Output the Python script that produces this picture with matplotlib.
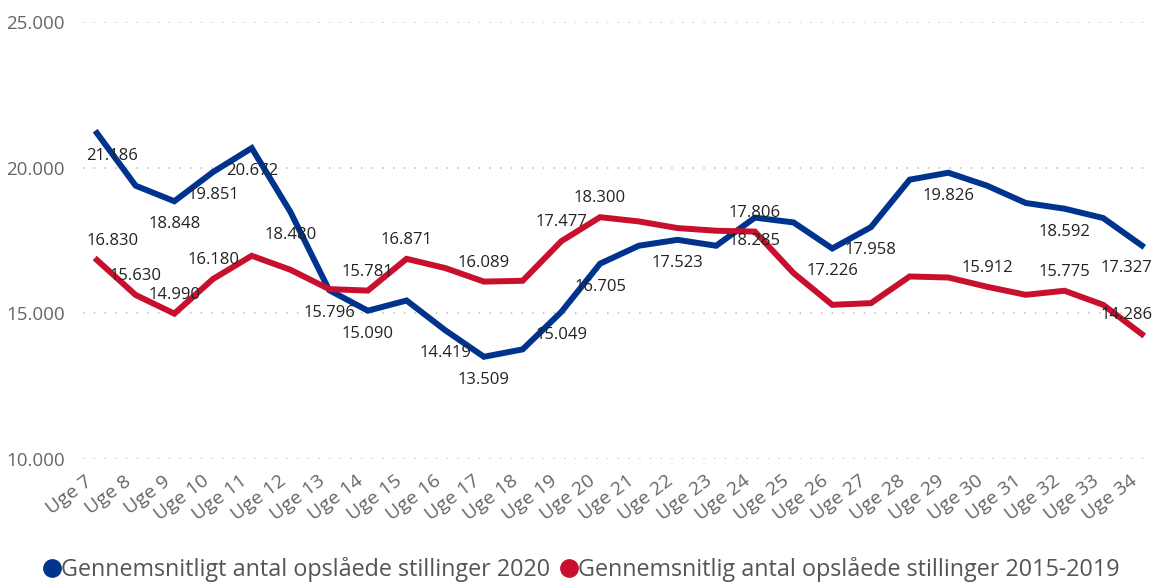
import matplotlib
matplotlib.use("Agg")
import matplotlib.pyplot as plt
from matplotlib.lines import Line2D

plt.rcParams['font.family'] = ['Open Sans', 'DejaVu Sans']

weeks = [f"Uge {w}" for w in range(7, 35)]
series_2020 = [21186, 19381, 18848, 19851, 20672, 18480, 15796, 15090, 15440, 14419,
               13509, 13763, 15049, 16705, 17320, 17523, 17320, 18285, 18120, 17226,
               17958, 19588, 19826, 19381, 18787, 18592, 18271, 17327]
series_1519 = [16830, 15630, 14990, 16180, 16976, 16495, 15832, 15781, 16871, 16553,
               16089, 16117, 17477, 18300, 18155, 17927, 17835, 17806, 16381, 15292,
               15350, 16265, 16230, 15912, 15636, 15775, 15292, 14286]
labels_2020 = [0, 2, 3, 4, 5, 6, 7, 9, 10, 12, 13, 15, 17, 19, 20, 22, 25, 27]
labels_1519 = [0, 1, 2, 3, 7, 8, 10, 12, 13, 17, 23, 25, 27]
legend_names = ["Gennemsnitligt antal opslåede stillinger 2020",
                "Gennemsnitlig antal opslåede stillinger 2015-2019"]
yticks = [10000, 15000, 20000, 25000]

BLUE = "#00338D"
RED = "#C8102E"

W, H = 1153, 583
fig = plt.figure(figsize=(W / 100, H / 100), dpi=100)
ax = fig.add_axes([83 / W, 1 - 459 / H, (1150 - 83) / W, (459 - 22) / H])

x = list(range(len(weeks)))
ax.plot(x, series_2020, color=BLUE, lw=4.3, solid_joinstyle='miter', zorder=3)
ax.plot(x, series_1519, color=RED, lw=4.3, solid_joinstyle='miter', zorder=3)

def fmt(v):
    return f"{v:,}".replace(",", ".")

last = len(weeks) - 1

def edge_dx(i):
    if i == 0:
        return 11
    if i == last:
        return -11
    return 0

for i in labels_2020:
    ax.annotate(fmt(series_2020[i]), (x[i], series_2020[i]), xytext=(edge_dx(i), -16.5),
                textcoords='offset points', ha='center', va='center',
                fontsize=12, color='#222222', zorder=4)
for i in labels_1519:
    ax.annotate(fmt(series_1519[i]), (x[i], series_1519[i]), xytext=(edge_dx(i), 13.5),
                textcoords='offset points', ha='center', va='center',
                fontsize=12, color='#222222', zorder=4)

ax.set_xlim(-0.36, 27.21)
ax.set_ylim(10000, 25000)
ax.set_yticks(yticks)
ax.set_yticklabels([fmt(v) for v in yticks], fontsize=13.5, color='#666666')
ax.set_xticks(x)
ax.set_xticklabels([])
for i, w in enumerate(weeks):
    ax.annotate(w, (x[i], 0), xycoords=('data', 'axes fraction'),
                xytext=(-8.6, -9.4), textcoords='offset points',
                rotation=37, ha='right', va='top', rotation_mode='anchor',
                fontsize=14, color='#666666', annotation_clip=False)
ax.tick_params(axis='both', length=0)
ax.tick_params(axis='y', pad=13)
ax.grid(axis='y', color='#BBBBBB', linestyle=(0, (1, 6)), lw=1.1)
for s in ax.spines.values():
    s.set_visible(False)

handles = [Line2D([], [], marker='o', color='none', markerfacecolor=BLUE,
                  markeredgecolor=BLUE, markersize=12.5),
           Line2D([], [], marker='o', color='none', markerfacecolor=RED,
                  markeredgecolor=RED, markersize=12.5)]
leg = fig.legend(handles, legend_names, loc='center left', bbox_to_anchor=(40 / W, 1 - 570 / H),
                 ncol=2, frameon=False, fontsize=16.85, handletextpad=-0.1,
                 columnspacing=0.3, handlelength=1.0, labelcolor='#555555',
                 borderaxespad=0, borderpad=0)

fig.savefig("out.png", dpi=100, facecolor='white')
